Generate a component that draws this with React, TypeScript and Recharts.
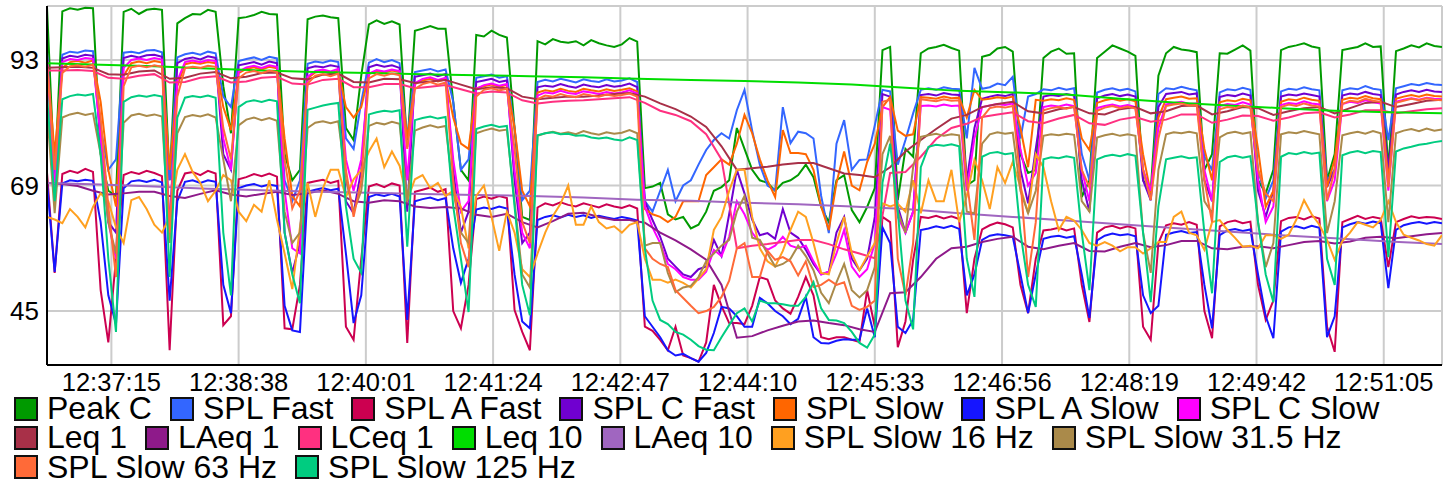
import { CartesianGrid, Line, LineChart, XAxis, YAxis } from "recharts"

// sampling of the fast series: one value every 5 s from 12:36:33
const startClock = "12:36:33"
const stepSeconds = 5

const timeLabels = ["12:37:15", "12:38:38", "12:40:01", "12:41:24", "12:42:47", "12:44:10", "12:45:33", "12:46:56", "12:48:19", "12:49:42", "12:51:05"]
const levelTicks = [45, 69, 93]

const peakC = [
  103.1, 70, 102.3, 102.9, 102.6, 103.0, 102.9, 75, 68, 67,
  102.2, 102.8, 101.8, 102.6, 102.8, 102.6, 70, 100, 101.0, 101.8,
  101.7, 102.6, 102.2, 88, 79, 101.0, 101.2, 101.6, 102.2, 101.8,
  101.7, 75, 70, 72, 100.8, 101.3, 101.5, 101.2, 101.0, 80,
  77.7, 90, 99.8, 100.6, 99.9, 100.4, 99.8, 76.4, 98.6, 99.0,
  99.5, 99.0, 99.0, 85, 72, 70, 97.8, 97.5, 98.6, 97.8,
  97.3, 80, 63, 62.4, 96.6, 96.0, 97.0, 96.5, 96.3, 96.6,
  95.8, 96.8, 96.2, 95.8, 95.5, 96.0, 97.2, 96.5, 68.5, 68.8,
  69.5, 63.5, 62.5, 63, 60.8, 61.5, 64, 68, 68.7, 70,
  80, 76, 72, 70, 69.5, 68, 69.5, 70, 71, 73,
  70.6, 64.9, 62, 70, 71, 64.3, 62, 64.9, 68.5, 94.9,
  95.5, 66.2, 76, 74.5, 94.3, 95.2, 95.5, 95.9, 95.3, 94.8,
  69, 70, 93.6, 94.0, 95.2, 95.5, 94.6, 75, 71.4, 72,
  93.4, 94.6, 95.2, 94.2, 94.3, 66.8, 70, 93.4, 94.6, 95.8,
  95.2, 94.6, 93.8, 70, 68, 90, 94.3, 95.5, 95.0, 94.8,
  94.5, 72, 75, 94.3, 94.2, 95.0, 95.8, 94.8, 70, 67.5,
  72, 94.9, 95.5, 95.8, 96.2, 95.6, 95.3, 70, 75, 94.9,
  95.2, 95.5, 96.2, 95.5, 95.6, 72, 94.7, 95.2, 95.8, 95.4,
  96.2, 95.7, 95.5,
]

const splFast = [
  94.5, 70, 94.0, 94.6, 94.4, 94.8, 94.7, 80, 72, 74,
  94.4, 94.6, 94.3, 94.8, 94.9, 94.5, 70, 93.5, 94.1, 94.4,
  94.0, 94.6, 94.3, 86, 84, 92.8, 93.2, 93.5, 93.0, 93.6,
  93.3, 70, 66, 70, 92.3, 92.7, 92.5, 92.9, 92.6, 78,
  76, 85, 92.5, 93.2, 92.6, 93.0, 92.4, 78, 90.7, 91.0,
  91.3, 90.8, 91.2, 85, 72, 74, 89.6, 89.9, 90.2, 89.6,
  89.9, 80, 66.2, 68, 88.8, 89.2, 88.9, 89.4, 89.1, 88.7,
  89.3, 89.0, 88.8, 89.3, 88.9, 89.1, 89.5, 88.8, 66, 64,
  68, 72, 66, 69, 70, 73, 75.8, 77.7, 79, 78,
  83.4, 87.3, 79.5, 73, 69, 68.1, 84, 77.1, 79.3, 79,
  78, 67, 59.9, 77, 81.5, 72, 73.9, 74, 80.5, 87.3,
  87, 73, 77.7, 82.8, 87.3, 87.6, 87.3, 87.8, 87.5, 87.4,
  78, 91.5, 87.5, 87.8, 88.5, 88.2, 89.8, 78, 86, 86.5,
  87.4, 87.2, 87.7, 87.3, 87.6, 75, 70, 86.8, 87.3, 87.6,
  87.2, 87.5, 87.0, 72, 66.2, 86.5, 87.6, 87.4, 87.9, 87.5,
  87.2, 74.5, 72, 86.8, 87.4, 87.2, 87.7, 87.3, 72, 66.5,
  70, 87.0, 87.5, 87.3, 87.8, 87.4, 87.2, 70, 72, 87.2,
  87.6, 87.4, 88.0, 87.5, 87.3, 77.7, 87.6, 88.0, 88.4, 88.2,
  88.6, 88.3, 88.2,
]

const splAFast = [
  71.5, 52.3, 71.2, 71.8, 71.4, 72.2, 71.6, 49, 39, 55,
  71.0, 71.6, 71.2, 71.8, 71.4, 70.8, 37.5, 68, 71.3, 71.6,
  71.0, 71.8, 71.3, 42.3, 44, 70.2, 70.6, 71.2, 70.8, 71.3,
  70.7, 41.7, 41.5, 50, 69.5, 69.8, 70.1, 69.5, 69.9, 42,
  39.5, 55, 68.8, 69.3, 68.7, 69.4, 69.0, 38.9, 67.8, 68.2,
  68.6, 67.8, 68.3, 45, 41.7, 50, 66.4, 66.9, 66.5, 67.0,
  66.6, 45.2, 41, 37.5, 64.8, 65.6, 65.2, 65.8, 65.3, 65.0,
  65.6, 65.2, 64.8, 65.4, 65.0, 64.7, 65.2, 64.6, 42, 41.2,
  39.5, 37.5, 42, 36.5, 36, 35.3, 39, 50, 46, 42.7,
  42.7, 42.5, 46, 51.5, 51, 47, 45.5, 44.5, 47.7, 51.5,
  48, 40, 39.6, 40, 40, 39.5, 39.1, 49, 42, 63,
  62, 38.1, 43, 54.8, 63, 62.8, 63.2, 62.7, 63.1, 62.6,
  44.6, 55, 60.6, 61.4, 61.9, 61.6, 61.0, 50, 44.6, 55,
  60.4, 60.6, 60.9, 60.4, 60.8, 50, 42.9, 60.0, 61.0, 61.3,
  60.8, 61.2, 60.8, 42, 39.5, 58, 61.4, 61.8, 61.5, 62.0,
  61.5, 45, 39.8, 61.2, 62.0, 62.3, 61.8, 62.1, 50, 43.3,
  47, 62.2, 62.8, 63.0, 62.5, 63.1, 62.7, 42, 37.2, 62.0,
  62.6, 63.2, 62.6, 63.0, 62.7, 53.4, 62.0, 62.6, 63.1, 62.8,
  63.0, 62.9, 62.6,
]

const splCFast = [
  94.0, 67.5, 93.3, 93.8, 93.6, 94.0, 93.8, 78, 62, 60,
  93.4, 93.8, 93.5, 93.9, 94.0, 93.6, 60, 92.4, 93.2, 93.5,
  93.1, 93.7, 93.4, 75, 72, 92.0, 92.3, 92.6, 92.1, 92.7,
  92.4, 60, 52.3, 58, 91.4, 91.8, 91.6, 92.0, 91.7, 66,
  63.7, 72, 91.6, 92.1, 91.7, 92.0, 91.5, 64, 89.8, 90.1,
  90.4, 89.9, 90.3, 72, 60, 64, 88.8, 89.1, 89.4, 88.8,
  89.1, 70, 58, 60, 87.8, 88.1, 87.9, 88.4, 88.0, 87.7,
  88.3, 88.0, 87.8, 88.2, 87.9, 88.1, 88.5, 87.8, 66, 62.4,
  59.2, 55, 53.5, 52, 51.5, 53, 53.5, 58.6, 55.5, 63.5,
  72, 67.5, 62.5, 59.5, 59.9, 58.8, 64.5, 60, 59, 56.7,
  54, 52, 52.5, 60, 63, 55, 52.8, 55, 63, 86.5,
  86, 65, 60, 64, 86.3, 86.5, 86.2, 86.7, 86.4, 86.3,
  70, 80, 85.6, 86.0, 86.3, 86.1, 86.5, 72, 65.6, 76,
  86.0, 86.3, 86.1, 86.5, 86.2, 70, 64, 85.7, 86.2, 86.5,
  86.1, 86.4, 86.0, 70, 66.2, 84, 86.5, 86.7, 86.9, 86.4,
  86.6, 70, 66, 85.9, 86.3, 86.1, 86.6, 86.2, 68, 63,
  68, 86.0, 86.4, 86.2, 86.6, 86.3, 86.0, 68.7, 72, 86.2,
  86.6, 86.4, 86.9, 86.5, 86.3, 72, 86.4, 86.9, 87.2, 86.9,
  87.3, 87.0, 86.9,
]

const splSlow = [
  93.0, 75, 91.5, 92.6, 92.8, 92.5, 92.9, 85, 72, 65,
  90, 92.4, 92.7, 92.4, 92.8, 92.5, 72, 88, 92.2, 92.5,
  92.3, 92.6, 92.4, 84, 79.6, 90.5, 91.3, 91.6, 91.2, 91.7,
  91.4, 78, 67, 65, 89.5, 90.6, 90.9, 90.5, 91.0, 84,
  82, 84, 90.3, 90.9, 90.6, 91.0, 90.7, 78, 88.4, 89.1,
  89.4, 88.9, 89.3, 82, 77, 76, 87.6, 88.0, 88.3, 87.9,
  88.2, 80, 68, 65, 86.8, 87.2, 87.0, 87.5, 87.1, 86.9,
  87.5, 87.2, 87.0, 87.4, 87.1, 87.3, 87.6, 87.0, 64.5, 63.5,
  63, 62, 63, 66, 66, 66, 71, 72.5, 74, 73,
  77, 82.5, 79, 74, 70, 66.8, 79.6, 75.2, 75.2, 75,
  72, 65, 60.5, 69.5, 75.5, 69, 68.1, 73.5, 77, 84,
  85.9, 79.5, 78.5, 78.8, 85.9, 85.8, 85.6, 86.0, 85.7, 85.8,
  82, 87.3, 85.4, 85.6, 85.9, 85.7, 86.0, 80, 72.5, 85.4,
  85.2, 85.5, 85.3, 85.7, 85.4, 78, 75.8, 84.8, 85.3, 85.6,
  85.2, 85.5, 85.1, 75, 67.5, 82, 85.5, 85.8, 86.0, 85.6,
  85.7, 76, 70, 84.9, 85.3, 85.1, 85.6, 85.3, 76, 64.9,
  68, 85.0, 85.5, 85.3, 85.8, 85.4, 85.2, 68.7, 74, 85.4,
  85.8, 85.6, 86.1, 85.7, 85.5, 70, 85.6, 86.0, 86.3, 86.0,
  86.4, 86.1, 86.0,
]

const splASlow = [
  69.6, 52.5, 69.4, 70.0, 69.8, 70.1, 69.9, 62, 48, 42.5,
  68.5, 69.8, 70.0, 69.7, 70.1, 69.6, 47, 66, 69.7, 70.0,
  69.5, 70.0, 69.7, 50, 44.6, 68.5, 69.0, 69.3, 68.8, 69.2,
  68.9, 46, 41.3, 41.0, 67.8, 68.2, 68.5, 68.1, 68.4, 56,
  42.7, 48, 66.8, 67.3, 67.0, 67.4, 66.9, 43.3, 66.0, 66.4,
  66.7, 66.2, 66.6, 57, 50.4, 55, 64.4, 64.8, 64.5, 65.0,
  64.6, 52, 43, 41.7, 62.4, 63.0, 63.3, 62.9, 63.4, 63.0,
  63.3, 62.8, 63.2, 62.9, 62.6, 63.0, 62.7, 62.3, 44, 42,
  40, 37.5, 36.5, 36.8, 36, 35.3, 37, 40.8, 45.8, 45.5,
  44, 42, 42, 47.5, 46.5, 45, 44, 42.5, 43.5, 47.7,
  40, 38.9, 38.8, 39.3, 39.6, 39.5, 39.5, 45.5, 40, 61,
  58, 42, 40.8, 43.3, 60.5, 60.8, 61.2, 60.9, 61.3, 60.7,
  48, 52, 58.6, 59.4, 59.7, 59.5, 59.2, 52, 44.6, 52,
  58.8, 59.2, 59.4, 59.0, 59.3, 52, 43.7, 58.5, 59.4, 59.8,
  59.5, 59.7, 59.3, 48, 44.6, 46, 59.6, 60.0, 60.3, 59.9,
  60.1, 50, 41.7, 59.5, 60.4, 60.7, 60.3, 60.6, 52, 44,
  39.8, 60.2, 61.0, 61.2, 60.8, 61.3, 60.9, 40, 44, 61.0,
  61.6, 62.0, 61.7, 62.1, 61.8, 49.4, 60.5, 61.4, 61.8, 62.0,
  61.7, 62.0, 61.8,
]

const splCSlow = [
  93.4, 68, 92.6, 93.2, 93.0, 93.4, 93.2, 78, 62, 55,
  91.5, 93.0, 93.3, 93.0, 93.4, 93.1, 60, 89, 92.6, 92.9,
  92.6, 93.0, 92.8, 78, 72, 90.8, 91.6, 91.9, 91.5, 92.0,
  91.7, 68, 57, 56, 89.8, 90.9, 91.2, 90.8, 91.3, 74,
  68, 74, 90.4, 91.1, 90.8, 91.2, 90.9, 70, 88.6, 89.4,
  89.7, 89.2, 89.6, 74, 64, 66, 87.5, 88.2, 88.5, 88.1,
  88.4, 72, 60, 57, 86.2, 86.8, 86.6, 87.1, 86.7, 86.5,
  87.0, 86.8, 86.5, 86.9, 86.6, 86.8, 87.2, 86.6, 65, 61,
  58, 54, 53, 51.5, 51, 51, 52.5, 56.7, 55.5, 59.2,
  66, 63.5, 60, 58, 56.7, 57.5, 59.2, 57.5, 57, 57.5,
  54.5, 52, 52.5, 56, 60.5, 53.5, 51.5, 53, 58, 84,
  83.5, 63, 60, 64, 84.2, 84.3, 84.1, 84.5, 84.2, 84.3,
  68, 78, 84.0, 84.3, 84.6, 84.4, 84.7, 76, 69, 71.4,
  84.0, 84.3, 84.1, 84.5, 84.2, 72, 66, 83.8, 84.2, 84.5,
  84.1, 84.4, 84.0, 72, 68, 80, 84.5, 84.8, 85.0, 84.6,
  84.7, 72, 66, 84.2, 84.6, 84.4, 84.9, 84.5, 70, 62,
  65, 84.4, 84.8, 84.6, 85.1, 84.7, 84.5, 66, 70, 84.6,
  85.0, 84.8, 85.3, 84.9, 84.7, 68, 85.0, 85.4, 85.7, 85.4,
  85.8, 85.6, 85.5,
]

const slow16 = [
  63, 62.5, 61.8, 64.5, 63, 61, 64.9, 67.5, 66, 61,
  58, 66.2, 66.8, 64.5, 61.5, 60, 63, 72, 75, 71.6,
  69.5, 66, 68, 71, 70, 64, 62.2, 65.3, 64, 70,
  62.5, 56, 49.2, 61, 69.5, 63, 68.5, 72, 72, 66.8,
  70.2, 72, 75.5, 78, 72.5, 75.5, 72.8, 66.2, 70.2, 71,
  68.5, 69.5, 67, 68, 64.9, 57, 67, 69, 63, 56.5,
  64, 60, 53, 51.5, 56, 60, 63.2, 65.5, 69, 61.5,
  61.5, 65, 62, 60.8, 61.2, 60, 61.5, 62, 55, 51,
  51, 50.4, 51, 50.4, 49.5, 51.2, 53, 60.5, 63, 68,
  72, 72, 63, 57, 54.5, 53.5, 56.5, 60.5, 64, 63,
  58, 52.3, 52, 58, 63, 56, 52.8, 55.5, 58, 65.6,
  65, 65.5, 64, 70, 63.7, 70, 66, 66, 72, 62,
  67, 73.9, 70, 64.5, 72.5, 69.5, 73.5, 68.7, 63.7, 75,
  72.5, 66, 60.5, 63, 62.3, 60.5, 58, 57.5, 58.2, 57.5,
  56.4, 57.2, 57.2, 56, 57, 58.2, 58.2, 63, 64, 60,
  59.5, 56.7, 62, 62.4, 60.5, 59, 57.3, 57.5, 57, 59.5,
  59.5, 58.8, 59.6, 62.5, 66.2, 63.5, 61.5, 58.6, 54.8, 58.4,
  60, 62, 61.5, 61, 62.4, 66, 62, 59.6, 59, 58.5,
  57.8, 57.5, 59.5,
]

const slow31 = [
  83.4, 63.7, 82, 82.6, 82.9, 82.5, 82.8, 75, 62, 56,
  81, 82.4, 82.7, 82.3, 82.6, 82.2, 58, 79, 82.1, 82.5,
  82.2, 82.6, 82.0, 74, 66, 80.5, 81.6, 82.0, 81.5, 81.9,
  81.4, 64, 58, 60, 80, 81.0, 81.3, 80.9, 81.3, 70,
  64, 68, 80.4, 81.0, 80.7, 81.2, 80.8, 66, 79.5, 80.1,
  80.5, 80.1, 80.4, 68, 60, 58, 79, 79.5, 79.9, 79.5,
  79.7, 66, 52, 49.5, 78.5, 79.0, 79.3, 78.9, 79.2, 78.8,
  79.4, 79.0, 78.7, 79.2, 78.9, 79.1, 79.6, 79.0, 57.5, 58,
  58, 52.3, 48.6, 49.5, 49.8, 51.5, 54.5, 56, 57.5, 58.6,
  64, 67, 59, 58.6, 56, 53.5, 54, 55, 57.5, 55.5,
  52.8, 48.5, 46.5, 50.5, 54, 49, 47.6, 49, 53.4, 75,
  78.5, 64, 60, 72.5, 78.3, 78.6, 78.9, 78.5, 78.8, 78.6,
  64, 63.7, 77, 78.8, 79.2, 78.9, 79.1, 68, 63.7, 68,
  78.5, 78.8, 78.6, 78.9, 78.7, 66, 64, 78.2, 78.6, 78.9,
  78.5, 78.8, 78.5, 60, 52.3, 72, 78.8, 79.2, 79.0, 79.3,
  79.0, 66, 63.7, 78.2, 79.0, 79.3, 78.9, 79.2, 62, 53.4,
  58, 78.8, 79.2, 79.0, 79.4, 79.1, 78.8, 59.9, 66, 78.6,
  79.0, 79.3, 78.9, 79.4, 79.0, 62, 79.0, 79.5, 79.8, 79.4,
  79.9, 79.5, 79.7,
]

const slow63 = [
  92.3, 72, 90.5, 91.8, 92.0, 91.7, 92.1, 82, 65, 51.5,
  88, 91.6, 91.9, 91.6, 92.0, 91.7, 60, 86, 91.4, 91.7,
  91.5, 91.9, 91.7, 80, 74, 89.5, 90.6, 90.9, 90.5, 91.0,
  90.7, 74, 64.6, 68, 88.5, 90.0, 90.3, 89.9, 90.4, 72,
  63, 70, 89.5, 90.3, 90.0, 90.4, 90.1, 76, 87.5, 88.4,
  88.8, 88.3, 88.7, 70, 58, 53.4, 86, 87.3, 87.6, 87.2,
  87.5, 76, 62, 58, 85.5, 86.2, 86.0, 86.5, 86.1, 85.9,
  86.5, 86.2, 86.0, 86.4, 86.1, 86.3, 86.6, 86.0, 57, 55,
  54, 53.4, 49, 47.5, 46, 44.6, 45, 45.8, 47.7, 50.8,
  57, 58, 51.5, 51.5, 56.5, 54.8, 55.3, 54.5, 51.8, 54.5,
  49.6, 50, 51, 50, 50.5, 46, 45.2, 45.8, 47, 85,
  85.4, 55, 48, 58, 85.5, 85.3, 85.1, 85.5, 85.2, 85.3,
  70, 58.6, 82, 83.8, 84.1, 83.9, 84.2, 70, 51.5, 62,
  83.4, 83.8, 84.0, 83.7, 84.1, 72, 68.7, 83.3, 83.9, 84.2,
  83.8, 84.1, 83.7, 72, 66.2, 78, 84.2, 84.5, 84.7, 84.3,
  84.4, 70, 62, 83.6, 84.0, 83.8, 84.3, 83.9, 72, 67.5,
  66, 84.0, 84.5, 84.2, 84.7, 84.3, 84.1, 66.2, 72, 84.6,
  85.2, 85.0, 85.6, 85.2, 85.0, 68.7, 84.8, 85.2, 85.6, 85.3,
  85.7, 85.4, 85.3,
]

const slow125 = [
  86.3, 66, 85.5, 86.1, 86.4, 86.2, 86.5, 75, 55, 41,
  85, 85.9, 86.2, 86.0, 86.3, 86.0, 51.5, 82, 85.8, 86.1,
  85.9, 86.2, 85.8, 60, 48, 84, 85.0, 85.3, 85.0, 85.4,
  85.1, 60, 52, 46.5, 83.5, 83.9, 84.3, 84.6, 84.8, 65,
  55, 52.3, 82.6, 83.0, 83.3, 83.1, 83.4, 57.3, 81.5, 81.9,
  82.2, 81.8, 82.1, 65, 55, 44.8, 79.8, 80.3, 80.6, 80.2,
  80.4, 65, 50, 44.2, 78.6, 79.0, 79.2, 78.8, 78.9, 78.5,
  78.6, 78.2, 78.0, 78.2, 77.8, 77.6, 78.2, 77.7, 57, 47,
  43.3, 42.5, 41, 40.5, 39.5, 38.3, 37.6, 37.5, 40, 42.3,
  44.6, 45.5, 43, 47, 46.5, 46.5, 46.3, 46, 46, 47.7,
  50.5, 45.5, 43.3, 43.2, 42.7, 41, 38.9, 38, 40.5, 69.5,
  77, 64, 47, 41.5, 72.5, 76.4, 76.8, 76.6, 76.9, 76.5,
  55, 47.7, 74.5, 75.2, 75.4, 75.0, 75.2, 60, 50, 45.8,
  74, 74.4, 74.2, 74.6, 74.3, 60, 49, 74.0, 74.6, 74.9,
  74.6, 75.0, 74.7, 60, 46.7, 65, 74.0, 74.3, 74.6, 74.2,
  74.4, 60, 48.4, 73.5, 74.4, 74.7, 74.3, 74.6, 62, 52,
  46.7, 74.5, 75.2, 75.0, 75.4, 75.1, 75.3, 55, 50, 74.8,
  75.3, 75.6, 75.2, 75.6, 75.4, 55.3, 75.5, 76.1, 76.4, 76.8,
  77.0, 77.3, 77.5,
]

// one-minute averages, read every 10 s
const leq1 = [
  91.5, 91.6, 91.7, 91.5, 90.3, 90.2, 90.8, 91.0, 89.4, 89.6,
  90.4, 90.7, 89.5, 89.8, 90.5, 90.6, 89.5, 89.3, 90.2, 90.4,
  88.8, 88.7, 89.4, 89.3, 88.6, 88.9, 89.2, 88.3, 87.4, 87.8,
  87.6, 86.0, 85.5, 85.8, 86.0, 86.0, 86.2, 86.5, 86.7, 86.0,
  84.7, 83.6, 82.2, 80.2, 76.5, 72.0, 72.3, 72.6, 73.0, 73.3,
  73.3, 72.3, 71.3, 71.0, 70.6, 72.5, 75.5, 77.7, 79.8, 81.8,
  82.5, 84.0, 84.6, 85.0, 83.2, 82.8, 83.6, 84.0, 82.8, 82.6,
  83.6, 84.0, 82.8, 83.2, 84.2, 84.3, 82.6, 83.2, 84.0, 83.8,
  82.5, 83.2, 83.8, 84.0, 82.8, 83.8, 84.8, 85.0, 84.0, 84.6,
  85.2, 85.4,
]

const laeq1 = [
  69.5, 69.3, 68.9, 68.0, 67.3, 67.5, 67.8, 67.8, 67.0, 66.6,
  67.4, 68.1, 67.3, 66.9, 67.4, 67.8, 67.2, 67.5, 68.1, 67.4,
  66.0, 65.7, 66.2, 66.0, 65.0, 64.7, 64.9, 64.6, 63.4, 63.0,
  63.6, 62.0, 61.0, 62.2, 63.6, 63.8, 63.0, 62.4, 62.4, 61.9,
  60.0, 58.5, 56.8, 54.8, 50.0, 39.9, 40.2, 41.3, 42.2, 43.0,
  43.2, 42.7, 42.3, 41.5, 41.0, 48.4, 48.6, 51.5, 55.0, 57.0,
  57.3, 58.2, 58.8, 59.2, 57.3, 56.8, 57.5, 58.0, 56.5, 56.4,
  57.3, 58.0, 57.2, 57.6, 58.4, 58.4, 57.0, 56.8, 57.3, 57.4,
  57.0, 57.6, 58.2, 58.4, 57.9, 58.3, 59.0, 59.2, 58.9, 59.3,
  59.7, 59.9,
]

const lceq1 = [
  91.0, 91.0, 91.1, 90.9, 89.6, 89.4, 90.0, 90.3, 88.7, 88.8,
  89.6, 89.9, 88.7, 88.9, 89.6, 89.8, 88.5, 88.3, 89.2, 89.4,
  87.8, 87.8, 88.4, 88.4, 87.6, 87.9, 88.2, 87.4, 86.6, 87.0,
  86.8, 85.3, 84.7, 85.0, 85.2, 85.3, 85.5, 85.7, 85.9, 84.8,
  83.3, 82.5, 81.3, 78.8, 74.0, 57.0, 57.5, 57.8, 58.2, 58.6,
  58.6, 57.8, 56.8, 56.0, 55.1, 71.4, 71.6, 74.5, 77.9, 80.0,
  80.8, 82.1, 82.6, 83.0, 81.3, 80.9, 81.8, 82.5, 80.9, 80.6,
  81.6, 82.1, 81.2, 81.6, 82.6, 82.6, 81.0, 81.6, 82.4, 82.3,
  81.4, 82.0, 82.8, 83.0, 82.0, 82.6, 83.4, 83.4, 82.8, 83.2,
  83.6, 83.8,
]

// ten-minute averages, read every 35 s
const leq10 = [
  92.4, 92.1, 91.8, 91.4, 91.0, 90.7, 90.5, 90.3, 90.1, 89.9,
  89.7, 89.4, 89.2, 89.0, 88.7, 88.3, 87.7, 87.1, 86.8, 86.4,
  85.6, 84.9, 84.3, 83.8, 83.3, 83.0, 82.8,
]

const laeq10 = [
  69.5, 69.2, 68.8, 68.4, 68.1, 67.8, 67.6, 67.4, 67.2, 67.0,
  66.7, 66.3, 66.1, 65.7, 65.4, 65.0, 64.5, 63.7, 63.0, 62.3,
  61.6, 60.9, 60.2, 59.5, 58.9, 58.3, 57.8,
]

const series = [
  { key: "peakC", name: "Peak C", color: "#009a00" },
  { key: "splFast", name: "SPL Fast", color: "#3366ff" },
  { key: "splAFast", name: "SPL A Fast", color: "#cc0050" },
  { key: "splCFast", name: "SPL C Fast", color: "#7000d0" },
  { key: "splSlow", name: "SPL Slow", color: "#ff6600" },
  { key: "splASlow", name: "SPL A Slow", color: "#1515ff" },
  { key: "splCSlow", name: "SPL C Slow", color: "#ff00ff" },
  { key: "leq1", name: "Leq 1", color: "#a83048" },
  { key: "laeq1", name: "LAeq 1", color: "#8e1a8a" },
  { key: "lceq1", name: "LCeq 1", color: "#ff3080" },
  { key: "leq10", name: "Leq 10", color: "#00dd00" },
  { key: "laeq10", name: "LAeq 10", color: "#a066c0" },
  { key: "slow16", name: "SPL Slow 16 Hz", color: "#ffa020" },
  { key: "slow31", name: "SPL Slow 31.5 Hz", color: "#aa8a4a" },
  { key: "slow63", name: "SPL Slow 63 Hz", color: "#ff6a38" },
  { key: "slow125", name: "SPL Slow 125 Hz", color: "#00cc80" },
]

function toSeconds(clock: string): number {
  const [h, m, s] = clock.split(":").map(Number)
  return h * 3600 + m * 60 + s
}

const start = toSeconds(startClock)
const end = start + (peakC.length - 1) * stepSeconds
const tickSeconds = timeLabels.map(toSeconds)
const labelBySecond: Record<number, string> = {}
timeLabels.forEach((l, i) => { labelBySecond[tickSeconds[i]] = l })

const rows = peakC.map((_, k) => ({
  t: start + k * stepSeconds,
  peakC: peakC[k],
  splFast: splFast[k],
  splAFast: splAFast[k],
  splCFast: splCFast[k],
  splSlow: splSlow[k],
  splASlow: splASlow[k],
  splCSlow: splCSlow[k],
  leq1: k % 2 === 0 ? leq1[k / 2] : null,
  laeq1: k % 2 === 0 ? laeq1[k / 2] : null,
  lceq1: k % 2 === 0 ? lceq1[k / 2] : null,
  leq10: k % 7 === 0 ? leq10[k / 7] : null,
  laeq10: k % 7 === 0 ? laeq10[k / 7] : null,
  slow16: slow16[k],
  slow31: slow31[k],
  slow63: slow63[k],
  slow125: slow125[k],
}))

const font = '"Liberation Sans", Arial, Helvetica, sans-serif'

export default function App() {
  return (
    <div style={{ position: "absolute", left: 0, top: 0, width: 1456, height: 487, background: "#fff", fontFamily: font }}>
      <LineChart width={1456} height={395} data={rows} margin={{ top: 6, right: 14, left: 0, bottom: 0 }}>
        <CartesianGrid stroke="#cccccc" strokeWidth={2} />
        <XAxis
          dataKey="t"
          type="number"
          domain={[start, end]}
          ticks={tickSeconds}
          interval={0}
          allowDataOverflow
          tickFormatter={(v: number) => labelBySecond[v] ?? ""}
          tickLine={false}
          axisLine={{ stroke: "#000", strokeWidth: 2 }}
          height={30}
          tick={{ fontSize: 25.5, fill: "#000", fontFamily: font }}
        />
        <YAxis
          type="number"
          domain={[34.68, 103.33]}
          ticks={levelTicks}
          allowDataOverflow
          tickLine={false}
          axisLine={{ stroke: "#000", strokeWidth: 2 }}
          width={47}
          tick={{ fontSize: 26, fill: "#000", fontFamily: font }}
        />
        {series.map((s) => (
          <Line
            key={s.key}
            dataKey={s.key}
            name={s.name}
            type="linear"
            stroke={s.color}
            strokeWidth={2}
            dot={false}
            connectNulls
            isAnimationActive={false}
          />
        ))}
      </LineChart>
      <div
        style={{
          position: "absolute",
          left: 14,
          top: 394,
          width: 1440,
          display: "flex",
          flexWrap: "wrap",
          fontSize: 32,
          lineHeight: "29.3px",
          color: "#000",
        }}
      >
        {series.map((s) => (
          <div key={s.key} style={{ display: "flex", alignItems: "center", marginRight: 18, whiteSpace: "nowrap" }}>
            <span style={{ width: 20, height: 20, border: "2px solid #111", background: s.color, marginRight: 9 }} />
            <span>{s.name}</span>
          </div>
        ))}
      </div>
    </div>
  )
}
